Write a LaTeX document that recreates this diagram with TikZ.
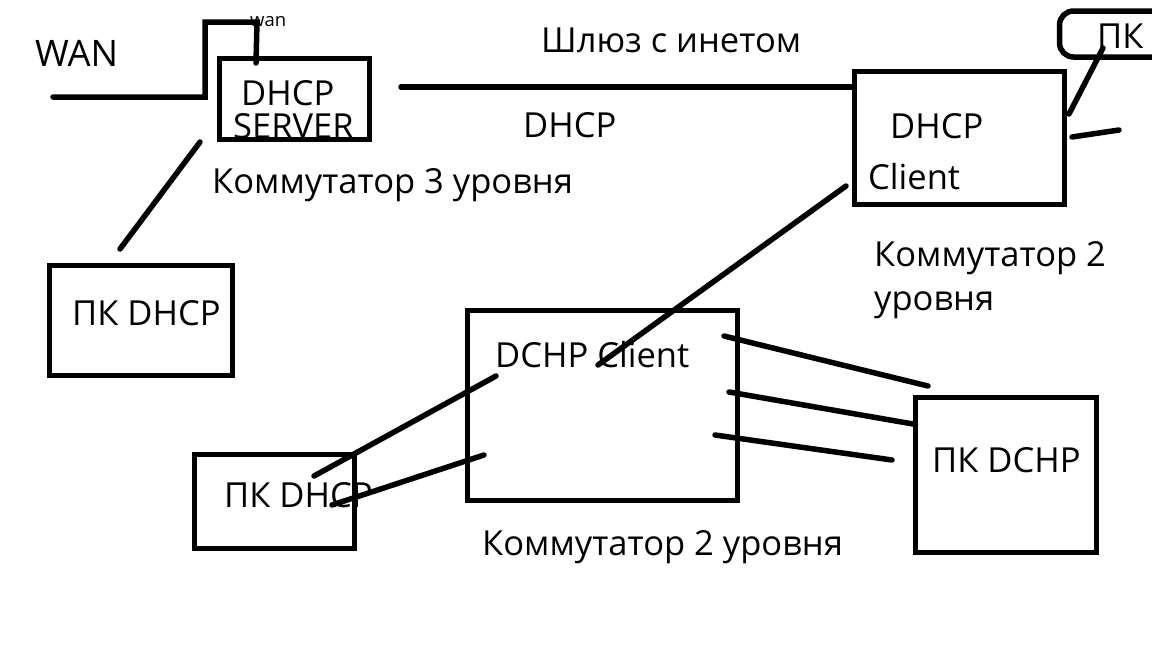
\documentclass[tikz,border=0pt]{standalone}
\usepackage{fontspec}
\setmainfont{Open Sans}
\begin{document}
\begin{tikzpicture}[x=1pt,y=-1pt,
  box/.style={draw, line width=5.5pt, inner sep=0pt},
  wire/.style={line width=5.5pt, line cap=round},
  lbl/.style={font=\fontsize{34.5}{40}\selectfont, inner sep=0pt, anchor=base west},
  small/.style={font=\fontsize{18.5}{22}\selectfont, inner sep=0pt, anchor=base west}]
\useasboundingbox[fill=white] (0,0) rectangle (1152,648);
% boxes
\node[box, minimum width=150pt, minimum height=81pt] (srv) at (294.5,99) {};
\node[box, minimum width=183pt, minimum height=110pt] (pcL) at (141,320.5) {};
\node[box, minimum width=210pt, minimum height=133pt] (cli) at (959.5,138) {};
\node[box, rounded corners=14pt, minimum width=108pt, minimum height=46pt] (pcTop) at (1113.5,34) {};
\node[box, minimum width=270pt, minimum height=190pt] (sw2) at (602.5,405.5) {};
\node[box, minimum width=160pt, minimum height=94pt] (pcB) at (274.5,501.5) {};
\node[box, minimum width=181pt, minimum height=155pt] (pcR) at (1006,475) {};
% labels
\node[lbl, font=\fontsize{36.5}{42}\selectfont] (tWAN) at (35,66) {WAN};
\node[small] (twan) at (250,26) {wan};
\node[lbl] (tSrv1) at (241,105) {DHCP};
\node[lbl] (tSrv2) at (233,138) {SERVER};
\node[lbl] (tGw) at (541,52) {Шлюз с инетом};
\node[lbl] (tDhcp) at (523,137) {DHCP};
\node[lbl] (tK3) at (212,193) {Коммутатор 3 уровня};
\node[lbl] (tPcL) at (72,325) {ПК DHCP};
\node[lbl] (tCli1) at (890,138) {DHCP};
\node[lbl] (tCli2) at (868,189) {Client};
\node[lbl] (tPcT) at (1097,48) {ПК};
\node[lbl] (tK2a) at (874,266) {Коммутатор 2};
\node[lbl] (tK2b) at (874,310) {уровня};
\node[lbl] (tSw2) at (495,367) {DCHP Client};
\node[lbl] (tPcB) at (224,507) {ПК DHCP};
\node[lbl] (tK2c) at (482,555) {Коммутатор 2 уровня};
\node[lbl] (tPcR) at (932,472) {ПК DCHP};
% free wire ends
\coordinate (w0) at (53,97);
\coordinate (w1) at (205,97);
\coordinate (w2) at (205,22);
\coordinate (w3) at (257,22);
\coordinate (w4) at (256,63);
\coordinate (s0) at (401,87);
\coordinate (a0) at (200,142);
\coordinate (a1) at (120,249);
\coordinate (p0) at (1103,48);
\coordinate (p1) at (1069,114);
\coordinate (q0) at (1072,137);
\coordinate (q1) at (1119,130);
\coordinate (c0) at (846,186);
\coordinate (c1) at (598,365);
\coordinate (b0) at (496,376);
\coordinate (b1) at (314,476);
\coordinate (b2) at (484,455);
\coordinate (b3) at (332,505);
\coordinate (r0) at (724,336);
\coordinate (r1) at (928,386);
\coordinate (r2) at (729,392);
\coordinate (r3) at (913,424);
\coordinate (r4) at (715,435);
\coordinate (r5) at (892,460);
% wires
\draw[wire, line join=miter] (w0) -- (w1) -- (w2) -- (w3) -- (w4);
\draw[wire] (s0) -- (s0 -| cli.west);
\draw[wire] (a0) -- (a1);
\draw[wire] (p0) -- (p1);
\draw[wire] (q0) -- (q1);
\draw[wire] (c0) -- (c1);
\draw[wire] (b0) -- (b1);
\draw[wire] (b2) -- (b3);
\draw[wire] (r0) -- (r1);
\draw[wire] (r2) -- (r3);
\draw[wire] (r4) -- (r5);
\end{tikzpicture}
\end{document}
